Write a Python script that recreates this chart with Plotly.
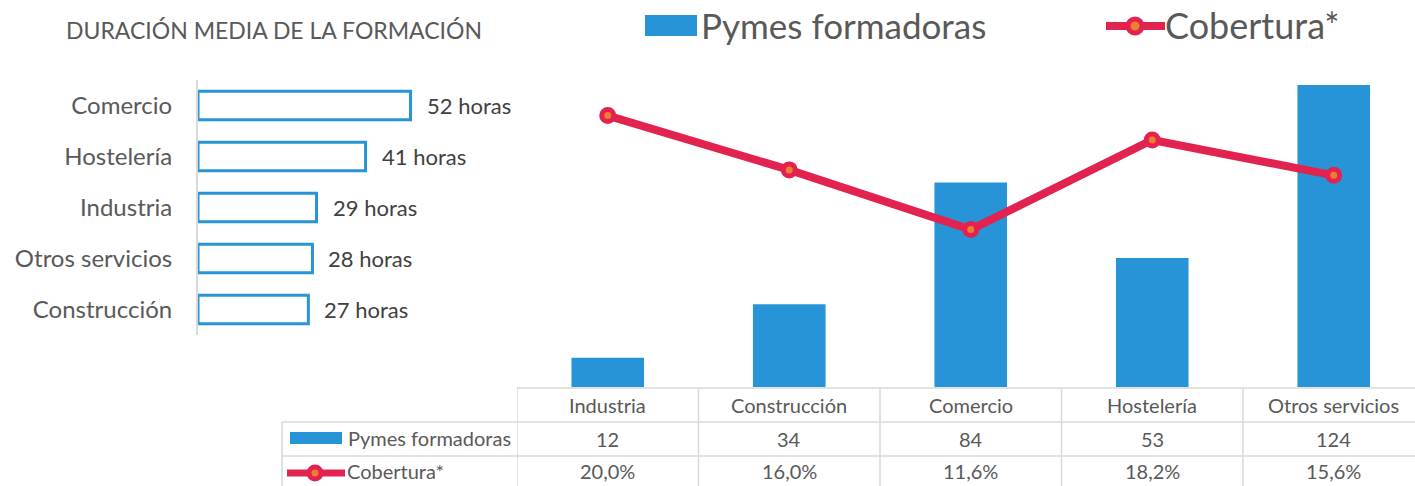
import plotly.graph_objects as go

# ---------------- data ----------------
dur_categories = ["Comercio", "Hostelería", "Industria", "Otros servicios", "Construcción"]
dur_hours = [52, 41, 29, 28, 27]

sectors = ["Industria", "Construcción", "Comercio", "Hostelería", "Otros servicios"]
pymes_formadoras = [12, 34, 84, 53, 124]
cobertura = [20.0, 16.0, 11.6, 18.2, 15.6]

title_left = "DURACIÓN MEDIA DE LA FORMACIÓN"
name_bar = "Pymes formadoras"
name_line = "Cobertura*"

# ---------------- style ----------------
W, H = 1415, 486
FONT = "Lato"
BLUE = "#2894D8"
RED = "#E3234F"
ORANGE = "#ED7D31"
GRID = "#D9D9D9"
TXT = "#595959"
DARK = "#404040"


def px(x):
    return x / W


def py(y):
    return 1 - y / H


fig = go.Figure()

# right combo chart
fig.add_trace(go.Bar(
    x=sectors, y=pymes_formadoras, name=name_bar, marker=dict(color=BLUE, line=dict(width=0)),
    width=0.4, xaxis="x", yaxis="y", showlegend=False,
))
fig.add_trace(go.Scatter(
    x=sectors, y=cobertura, name=name_line, mode="lines+markers",
    line=dict(color=RED, width=8),
    marker=dict(size=12, color=ORANGE, line=dict(color=RED, width=5)),
    xaxis="x", yaxis="y2", showlegend=False,
))

# left horizontal outline bars
fig.add_trace(go.Bar(
    y=dur_categories, x=dur_hours, orientation="h", width=0.56,
    marker=dict(color="white", line=dict(color=BLUE, width=3)),
    xaxis="x2", yaxis="y3", showlegend=False,
))

# right axes geometry
band = 181.5
x_left_px = 517
x_right_px = W
n_bands = (x_right_px - x_left_px) / band
y_bottom_px, y_top_px = 387, 46
y_max = 140
y2_max = (y_bottom_px - y_top_px) / 13.57

# left axes geometry
lx0, lx1 = 198, 470
l_range = (lx1 - lx0) / 4.087

fig.update_layout(
    width=W, height=H,
    margin=dict(l=0, r=0, t=0, b=0),
    paper_bgcolor="white", plot_bgcolor="white",
    font=dict(family=FONT, color=TXT),
    barmode="overlay",
    xaxis=dict(domain=[px(x_left_px), 1], range=[-0.5, -0.5 + n_bands], showticklabels=False,
               showgrid=False, zeroline=False, showline=False, categoryorder="array",
               categoryarray=sectors, fixedrange=True),
    yaxis=dict(domain=[py(y_bottom_px), py(y_top_px)], range=[0, y_max], visible=False),
    yaxis2=dict(domain=[py(y_bottom_px), py(y_top_px)], range=[0, y2_max], overlaying="y",
                visible=False),
    xaxis2=dict(domain=[px(lx0), px(lx1)], range=[0, l_range], visible=False, anchor="y3"),
    yaxis3=dict(domain=[py(335), py(80)], anchor="x2", categoryorder="array",
                categoryarray=list(reversed(dur_categories)),
                showline=True, linecolor=GRID, linewidth=2, showgrid=False,
                ticks="", ticklabelstandoff=19,
                tickfont=dict(family=FONT, size=24, color=TXT)),
)

annotations = []
shapes = []

# left title
annotations.append(dict(text=title_left, x=px(64), y=py(30), xref="paper", yref="paper",
                        xanchor="left", yanchor="middle", showarrow=False,
                        font=dict(family=FONT, size=23, color=TXT)))

# left data labels
for c, v in zip(dur_categories, dur_hours):
    annotations.append(dict(text=f"{v} horas", x=v, y=c, xref="x2", yref="y3",
                            xanchor="left", yanchor="middle", xshift=14, showarrow=False,
                            font=dict(family=FONT, size=22, color=DARK)))

# top legend (manual)
shapes.append(dict(type="rect", xref="paper", yref="paper", x0=px(645), x1=px(697),
                   y0=py(36), y1=py(15), fillcolor=BLUE, line=dict(width=0)))
annotations.append(dict(text=name_bar, x=px(699), y=py(25), xref="paper", yref="paper",
                        xanchor="left", yanchor="middle", showarrow=False,
                        font=dict(family=FONT, size=35, color=TXT)))
shapes.append(dict(type="line", xref="paper", yref="paper", x0=px(1106), x1=px(1165),
                   y0=py(26), y1=py(26), line=dict(color=RED, width=8)))
shapes.append(dict(type="circle", xref="paper", yref="paper", x0=px(1128), x1=px(1142),
                   y0=py(33), y1=py(19), fillcolor=ORANGE, line=dict(color=RED, width=5)))
annotations.append(dict(text=name_line, x=px(1163), y=py(25), xref="paper", yref="paper",
                        xanchor="left", yanchor="middle", showarrow=False,
                        font=dict(family=FONT, size=36, color=TXT)))

# data table
row_top, row1, row2, row_bot = 388, 422, 456, 500
gl = dict(color=GRID, width=1.5)
shapes.append(dict(type="line", xref="x", yref="paper", x0=-0.5, x1=-0.5 + n_bands + 0.2,
                   y0=py(row_top), y1=py(row_top), line=gl))
for yy in (row1, row2):
    shapes.append(dict(type="line", xref="paper", yref="paper", x0=px(282), x1=1,
                       y0=py(yy), y1=py(yy), line=gl))
for i in range(len(sectors)):
    shapes.append(dict(type="line", xref="x", yref="paper", x0=i - 0.5, x1=i - 0.5,
                       y0=py(row_top), y1=py(row_bot), line=gl))
shapes.append(dict(type="line", xref="paper", yref="paper", x0=px(282), x1=px(282),
                   y0=py(row1), y1=py(row_bot), line=gl))

tfont = dict(family=FONT, size=20, color=TXT)
for i, s in enumerate(sectors):
    annotations.append(dict(text=s, x=i, y=py(405), xref="x", yref="paper", showarrow=False,
                            xanchor="center", yanchor="middle", font=tfont))
    annotations.append(dict(text=str(pymes_formadoras[i]), x=i, y=py(439), xref="x", yref="paper",
                            showarrow=False, xanchor="center", yanchor="middle", font=tfont))
    annotations.append(dict(text=f"{cobertura[i]:.1f}".replace(".", ",") + "%", x=i, y=py(471),
                            xref="x", yref="paper", showarrow=False, xanchor="center",
                            yanchor="middle", font=tfont))

# table legend keys
shapes.append(dict(type="rect", xref="paper", yref="paper", x0=px(290), x1=px(342),
                   y0=py(444), y1=py(432), fillcolor=BLUE, line=dict(width=0)))
annotations.append(dict(text=name_bar, x=px(346), y=py(438), xref="paper", yref="paper",
                        xanchor="left", yanchor="middle", showarrow=False, font=tfont))
shapes.append(dict(type="line", xref="paper", yref="paper", x0=px(287), x1=px(345),
                   y0=py(473), y1=py(473), line=dict(color=RED, width=7)))
shapes.append(dict(type="circle", xref="paper", yref="paper", x0=px(309), x1=px(321),
                   y0=py(479), y1=py(467), fillcolor=ORANGE, line=dict(color=RED, width=5)))
annotations.append(dict(text=name_line, x=px(345), y=py(471), xref="paper", yref="paper",
                        xanchor="left", yanchor="middle", showarrow=False, font=tfont))

fig.update_layout(annotations=annotations, shapes=shapes)

fig.write_html("out.html", config={"displayModeBar": False},
               post_script="document.body.style.margin='0px';document.body.style.overflow='hidden';")
